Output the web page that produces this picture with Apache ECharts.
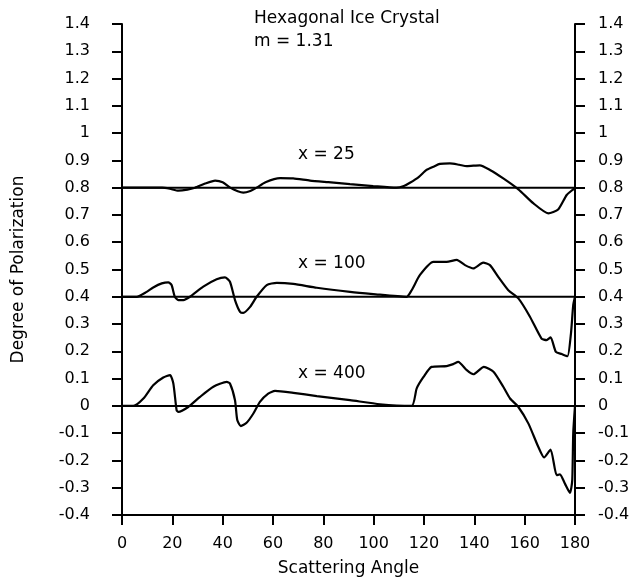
<!DOCTYPE html>
<html>
<head>
<meta charset="utf-8">
<script src="https://cdn.jsdelivr.net/npm/echarts@6/dist/echarts.min.js"></script>
<style>
  html, body { margin: 0; padding: 0; background: #fff; }
  #chart { width: 644px; height: 584px; }
</style>
</head>
<body>
<div id="chart"></div>
<script>
// scattering angle (deg) and degree of polarization
var angles25 = [0, 16, 19, 22.4, 26, 29, 33, 37, 40, 43, 46, 48.2, 51, 53.5, 57, 62.8, 68, 74.7, 82, 90.6,
  99.8, 109, 112, 114.4, 118, 121, 124, 126.3, 130.3, 134, 137, 142.2, 146.2, 151.5, 157.5, 163.4, 169.4,
  173.3, 176.7, 179.3, 180]
var pol25 = [0.8, 0.8, 0.796, 0.789, 0.793, 0.80, 0.815, 0.826, 0.82, 0.80, 0.787, 0.782, 0.788, 0.80, 0.82,
  0.835, 0.834, 0.826, 0.82, 0.813, 0.806, 0.80, 0.806, 0.818, 0.84, 0.865, 0.878, 0.887, 0.889, 0.884,
  0.879, 0.882, 0.865, 0.834, 0.794, 0.743, 0.706, 0.72, 0.773, 0.794, 0.80]

var angles100 = [0, 5.8, 9.8, 12.4, 15.8, 18.4, 19.7, 21, 22.4, 24.4, 27, 32.3, 37.6, 40.9, 42.9, 44.9, 46.9,
  48.2, 50.9, 53.5, 57.5, 61.5, 68.1, 77.4, 90.6, 99.8, 113.1, 115.1, 118.4, 123.7, 129, 133, 136.3, 139.6,
  143.5, 146.2, 149.5, 153.5, 157.5, 162.1, 166.7, 168.7, 170.3, 172.4, 174.7, 177, 178.4, 179.3, 180]
var pol100 = [0.4, 0.4, 0.418, 0.434, 0.449, 0.453, 0.443, 0.40, 0.388, 0.388, 0.40, 0.437, 0.464, 0.471,
  0.455, 0.388, 0.345, 0.341, 0.363, 0.40, 0.443, 0.451, 0.447, 0.433, 0.418, 0.41, 0.40, 0.424, 0.48,
  0.528, 0.528, 0.535, 0.516, 0.504, 0.525, 0.516, 0.473, 0.424, 0.394, 0.327, 0.247, 0.241, 0.251, 0.198,
  0.19, 0.182, 0.266, 0.37, 0.40]

var angles400 = [0, 4.5, 8.5, 12.4, 16.4, 19.1, 20.4, 21.7, 22.4, 26.3, 31, 36.3, 41.6, 42.9, 44.9, 45.8,
  47.2, 49.5, 52.2, 54.8, 58.1, 60.8, 68.1, 77.4, 90.6, 102.5, 115.1, 117.1, 119.8, 123, 129, 131.6, 133.6,
  137, 139.6, 143.8, 147.6, 151.5, 154.2, 157.5, 161.5, 165.4, 167.7, 170.3, 172.7, 174, 176, 178, 178.9,
  179.3, 180]
var pol400 = [0, 0, 0.027, 0.076, 0.104, 0.113, 0.082, -0.016, -0.022, -0.004, 0.033, 0.07, 0.088, 0.082,
  0.021, -0.052, -0.074, -0.062, -0.028, 0.015, 0.045, 0.055, 0.048, 0.036, 0.021, 0.006, 0, 0.064, 0.106,
  0.143, 0.146, 0.153, 0.161, 0.131, 0.116, 0.143, 0.125, 0.07, 0.027, -0.004, -0.065, -0.15, -0.189,
  -0.16, -0.254, -0.251, -0.285, -0.319, -0.273, -0.1, 0]

var baselines = [0.8, 0.4, 0]
var curveNames = ['x = 25', 'x = 100', 'x = 400']

var font = 'DejaVu Sans'

function zip(xs, ys) {
  return xs.map(function (x, i) { return [x, ys[i]] })
}

function yAxisFor(pos, margin) {
  return {
    type: 'value',
    position: pos,
    min: -0.4,
    max: 1.4,
    interval: 0.1,
    axisLine: { show: true, lineStyle: { color: '#000', width: 2 } },
    axisTick: { show: true, length: 10, lineStyle: { color: '#000', width: 2 } },
    axisLabel: {
      margin: margin,
      color: '#000',
      fontFamily: font,
      fontSize: 16,
      formatter: function (v) { return String(+v.toFixed(1)) }
    },
    splitLine: { show: false }
  }
}

var curves = [zip(angles25, pol25), zip(angles100, pol100), zip(angles400, pol400)]

var series = []
baselines.forEach(function (b) {
  series.push({
    type: 'line',
    data: [[0, b], [180, b]],
    symbol: 'none',
    silent: true,
    lineStyle: { color: '#000', width: 2 }
  })
})
curves.forEach(function (c, i) {
  series.push({
    name: curveNames[i],
    type: 'line',
    data: c,
    symbol: 'none',
    smooth: 0.2,
    lineStyle: { color: '#000', width: 2.2 }
  })
})

var chart = echarts.init(document.getElementById('chart'))
chart.setOption({
  animation: false,
  grid: { left: 122, right: 69, top: 24, bottom: 69 },
  xAxis: {
    type: 'value',
    min: 0,
    max: 180,
    interval: 20,
    name: 'Scattering Angle',
    nameLocation: 'middle',
    nameGap: 45,
    nameTextStyle: { color: '#000', fontFamily: font, fontSize: 17 },
    axisLine: { onZero: false, lineStyle: { color: '#000', width: 2 } },
    axisTick: { length: 10, lineStyle: { color: '#000', width: 2 } },
    axisLabel: { margin: 21, color: '#000', fontFamily: font, fontSize: 16 },
    splitLine: { show: false }
  },
  yAxis: [
    Object.assign(yAxisFor('left', 32), {
      name: 'Degree of Polarization',
      nameLocation: 'middle',
      nameGap: 95,
      nameTextStyle: { color: '#000', fontFamily: font, fontSize: 17 }
    }),
    yAxisFor('right', 23)
  ],
  graphic: [
    { type: 'text', left: 254, top: 10, style: { text: 'Hexagonal Ice Crystal', font: '17px ' + font, fill: '#000' } },
    { type: 'text', left: 254, top: 33, style: { text: 'm = 1.31', font: '17px ' + font, fill: '#000' } },
    { type: 'text', left: 298, top: 146, style: { text: curveNames[0], font: '17px ' + font, fill: '#000' } },
    { type: 'text', left: 298, top: 255, style: { text: curveNames[1], font: '17px ' + font, fill: '#000' } },
    { type: 'text', left: 298, top: 365, style: { text: curveNames[2], font: '17px ' + font, fill: '#000' } }
  ],
  series: series
})
</script>
</body>
</html>
